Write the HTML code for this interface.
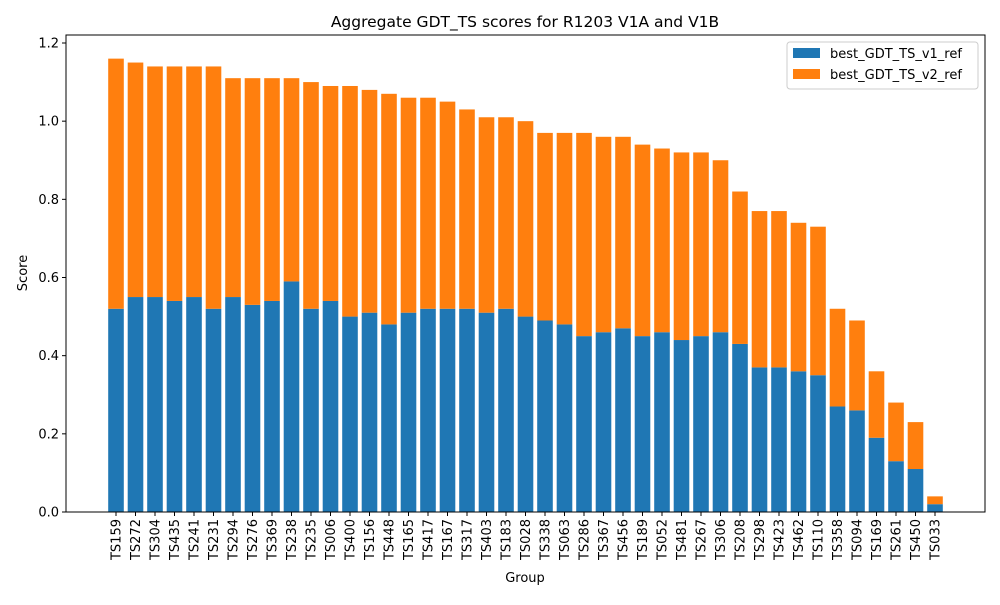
<!DOCTYPE html>
<html><head><meta charset="utf-8"><style>
body{margin:0;background:#fff;font-family:"Liberation Sans","DejaVu Sans",sans-serif}
svg text{font-family:"DejaVu Sans","Liberation Sans",sans-serif;font-size:13px;fill:#000}
</style></head><body>
<svg id="chart" width="1000" height="600" viewBox="0 0 1000 600">
<rect width="1000" height="600" fill="#fff"/>
<text x="525" y="27" text-anchor="middle" style="font-size:15.5px">Aggregate GDT_TS scores for R1203 V1A and V1B</text>
<g id="bars"></g>
<g id="axes"></g>
<rect x="66" y="35" width="919" height="477" fill="none" stroke="#000" stroke-width="1"/>
<text x="525" y="582" text-anchor="middle">Group</text>
<text transform="translate(27,273) rotate(-90)" text-anchor="middle">Score</text>
<g>
<rect x="787" y="42" width="191" height="47" rx="3" fill="#fff" fill-opacity="0.8" stroke="#ccc"/>
<g><rect x="793" y="48" width="27" height="10" fill="#1f77b4"/><text x="830" y="58">best_GDT_TS_v1_ref</text></g>
<g><rect x="793" y="69" width="27" height="10" fill="#ff7f0e"/><text x="830" y="79">best_GDT_TS_v2_ref</text></g>
</g>
</svg>
<script>
const categories=["TS159","TS272","TS304","TS435","TS241","TS231","TS294","TS276","TS369","TS238","TS235","TS006","TS400","TS156","TS448","TS165","TS417","TS167","TS317","TS403","TS183","TS028","TS338","TS063","TS286","TS367","TS456","TS189","TS052","TS481","TS267","TS306","TS208","TS298","TS423","TS462","TS110","TS358","TS094","TS169","TS261","TS450","TS033"];
const v1Values=[0.52,0.55,0.55,0.54,0.55,0.52,0.55,0.53,0.54,0.59,0.52,0.54,0.50,0.51,0.48,0.51,0.52,0.52,0.52,0.51,0.52,0.50,0.49,0.48,0.45,0.46,0.47,0.45,0.46,0.44,0.45,0.46,0.43,0.37,0.37,0.36,0.35,0.27,0.26,0.19,0.13,0.11,0.02];
const v2Values=[0.64,0.60,0.59,0.60,0.59,0.62,0.56,0.58,0.57,0.52,0.58,0.55,0.59,0.57,0.59,0.55,0.54,0.53,0.51,0.50,0.49,0.50,0.48,0.49,0.52,0.50,0.49,0.49,0.47,0.48,0.47,0.44,0.39,0.40,0.40,0.38,0.38,0.25,0.23,0.17,0.15,0.12,0.02];
const yTicks=[0,0.2,0.4,0.6,0.8,1.0,1.2];
const yTickLabels=["0.0","0.2","0.4","0.6","0.8","1.0","1.2"];
const NS="http://www.w3.org/2000/svg";
const L=66,R=985,T=35,B=512;
const y=v=>B-v*(469/1.2);
const n=categories.length;
const step=(R-L)/(n-1+0.8+2*0.05*(n-1+0.8)/0.9*0.9);
const xs=i=>116+i*(935-116)/(n-1);
const bw=0.8*(935-116)/(n-1);
const bars=document.getElementById('bars'),axes=document.getElementById('axes');
function mk(tag,attrs,parent){const e=document.createElementNS(NS,tag);for(const k in attrs)e.setAttribute(k,attrs[k]);parent.appendChild(e);return e;}
categories.forEach((c,i)=>{
  const cx=xs(i);
  const r1=mk('rect',{x:cx-bw/2,y:y(v1Values[i]),width:bw,height:B-y(v1Values[i]),fill:'#1f77b4'},bars);
  
  
  const top=v1Values[i]+v2Values[i];
  const r2=mk('rect',{x:cx-bw/2,y:y(top),width:bw,height:y(v1Values[i])-y(top),fill:'#ff7f0e'},bars);
  
  
  mk('line',{x1:cx,x2:cx,y1:B,y2:B+4,stroke:'#000'},axes);
  const t=mk('text',{transform:`translate(${cx+4.5},${B+7}) rotate(-90)`,'text-anchor':'end'},axes);
  t.textContent=c;
  
  
});
yTicks.forEach((v,i)=>{
  mk('line',{x1:L-4,x2:L,y1:y(v),y2:y(v),stroke:'#000'},axes);
  const t=mk('text',{x:L-7,y:y(v)+4.5,'text-anchor':'end'},axes);
  t.textContent=yTickLabels[i];
  
  
});
</script>
</body></html>
